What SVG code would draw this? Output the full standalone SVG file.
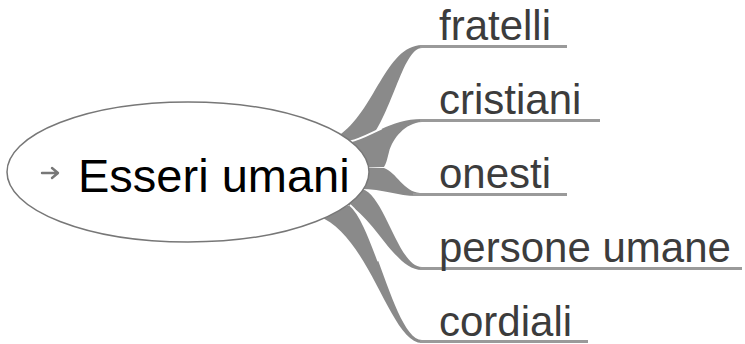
<svg xmlns="http://www.w3.org/2000/svg" width="745" height="344" viewBox="0 0 745 344">
<style>
.br{fill:#8a8a8a;stroke:none}
.gap{fill:none;stroke:#fff;stroke-width:2}
.ul{stroke:#9a9a9a;stroke-width:3;fill:none}
.lbl{font-family:"Liberation Sans",Arial,sans-serif;font-size:42px;fill:#3c3c3c}
.main{font-family:"Liberation Sans",Arial,sans-serif;font-size:47px;fill:#000}
</style>
<rect width="745" height="344" fill="#fff"/>
<g id="connectors">
<path class="br" d="M338,136 C375,112 385,46 422,45 L422,48 C402,48 392,118 364,147 Z"/>
<path class="br" d="M350,142 C370,138 390,119 422,119 L422,122 C405,123 393,138 389,152 C387,160 386,164 384,167 L352,167 Z"/>
<path class="br" d="M352,167 L384,168 C396,172 404,192 420,193 L420,196 C400,197 385,189 360,189 Z"/>
<path class="br" d="M362,189 C385,195 398,267 422,267 L422,270 C395,270 375,218 347,204 Z"/>
<path class="br" d="M350,205 C375,225 395,340 422,340 L422,343 C390,343 370,235 318,216 Z"/>
<path class="gap" d="M350,141.5 C360,139.5 370,133.75 381.5,128.5"/>
<path class="gap" d="M350,205 C360,213 369.2,236.2 378.4,261.2"/>
<line class="ul" x1="420" y1="46.5" x2="567" y2="46.5"/>
<line class="ul" x1="420" y1="120.5" x2="600" y2="120.5"/>
<line class="ul" x1="413" y1="194.5" x2="567" y2="194.5"/>
<line class="ul" x1="420" y1="268.5" x2="742" y2="268.5"/>
<line class="ul" x1="420" y1="341.5" x2="588" y2="341.5"/>
</g>
<g id="root">
<ellipse cx="188" cy="172" rx="181" ry="70" fill="#fff" stroke="#777" stroke-width="1.5"/>
<path d="M42,173 L57,173 M52,168 L58,173 L52,178" stroke="#777" stroke-width="2.4" fill="none" stroke-linecap="round" stroke-linejoin="round"/>
<text class="main" x="78" y="192">Esseri umani</text>
</g>
<g id="n-fratelli"><text class="lbl" x="439" y="40">fratelli</text></g>
<g id="n-cristiani"><text class="lbl" x="439" y="114">cristiani</text></g>
<g id="n-onesti"><text class="lbl" x="439" y="188">onesti</text></g>
<g id="n-persone"><text class="lbl" x="439" y="262">persone umane</text></g>
<g id="n-cordiali"><text class="lbl" x="439" y="336">cordiali</text></g>
</svg>
